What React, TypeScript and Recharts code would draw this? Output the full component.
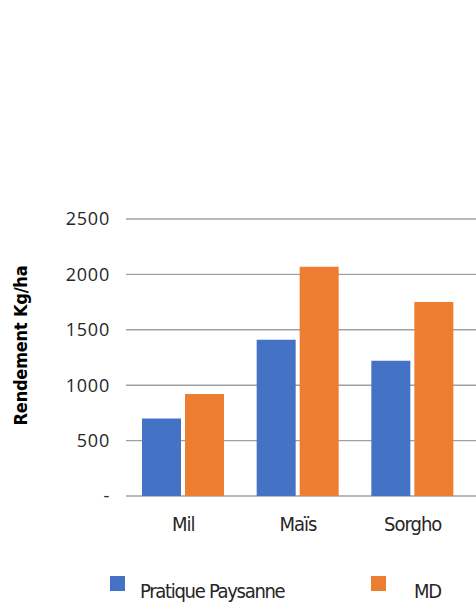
import { BarChart, Bar, XAxis, YAxis, CartesianGrid, Legend } from "recharts";

const categories = ["Mil", "Maïs", "Sorgho"];
const pratiquePaysanne = [700, 1410, 1220];
const md = [920, 2070, 1750];
const yTicks = [0, 500, 1000, 1500, 2000, 2500];

const BLUE = "#4472C4";
const ORANGE = "#ED7D31";
const NARROW = "'Liberation Sans Narrow', 'DejaVu Sans Condensed', sans-serif";

const data = categories.map((name, i) => ({
  name,
  pp: pratiquePaysanne[i],
  md: md[i],
}));

function LegendBox() {
  const item = (color: string, label: string, sq: number, tx: number) => (
    <>
      <span
        style={{ position: "absolute", left: sq, top: 6, width: 15, height: 15, background: color }}
      />
      <span
        style={{
          position: "absolute",
          left: tx,
          top: 11,
          fontFamily: NARROW,
          fontSize: 20,
          letterSpacing: -1.3,
          lineHeight: "21px",
          color: "#262626",
          whiteSpace: "nowrap",
        }}
      >
        {label}
      </span>
    </>
  );
  return (
    <div style={{ position: "relative", width: 476, height: 33 }}>
      {item(BLUE, "Pratique Paysanne", 110, 140)}
      {item(ORANGE, "MD", 371, 414)}
    </div>
  );
}

export default function App() {
  return (
    <div style={{ position: "absolute", left: 0, top: 0, width: 476, height: 603, background: "#fff" }}>
      <BarChart
        width={476}
        height={603}
        data={data}
        margin={{ top: 219, right: 0, bottom: 0, left: 0 }}
        barSize={39}
        barGap={4}
      >
        <CartesianGrid vertical={false} stroke="#a0a0a0" strokeWidth={1.4} />
        <XAxis
          dataKey="name"
          height={74}
          axisLine={false}
          tickLine={false}
          tickMargin={15}
          padding={{ left: 0, right: 6 }}
          tick={{ fill: "#262626", fontSize: 20, letterSpacing: -1, fontFamily: NARROW }}
        />
        <YAxis
          width={126}
          domain={[0, 2500]}
          ticks={yTicks}
          axisLine={false}
          tickLine={false}
          tickMargin={10}
          tickFormatter={(v: number) => (v === 0 ? "-" : String(v))}
          tick={{ fill: "#262626", fontSize: 18, fontFamily: "'Open Sans', sans-serif", letterSpacing: 0.8 }}
          label={{
            content: (props: any) => {
              const vb = props.viewBox || { x: 0, y: 219, height: 277 };
              const cx = vb.x + 20;
              const cy = vb.y + vb.height / 2 - 12;
              return (
                <text
                  x={cx}
                  y={cy}
                  transform={`rotate(-90 ${cx} ${cy})`}
                  textAnchor="middle"
                  dominantBaseline="central"
                  fontFamily={NARROW}
                  fontWeight="bold"
                  fontSize={18}
                  letterSpacing={-0.2}
                  fill="#000"
                >
                  Rendement Kg/ha
                </text>
              );
            },
          }}
        />
        <Legend
          verticalAlign="bottom"
          content={() => <LegendBox />}
          wrapperStyle={{ left: 0, bottom: 0, width: 476, height: 33 }}
        />
        <Bar dataKey="pp" name="Pratique Paysanne" fill={BLUE} isAnimationActive={false} />
        <Bar dataKey="md" name="MD" fill={ORANGE} isAnimationActive={false} />
      </BarChart>
    </div>
  );
}
